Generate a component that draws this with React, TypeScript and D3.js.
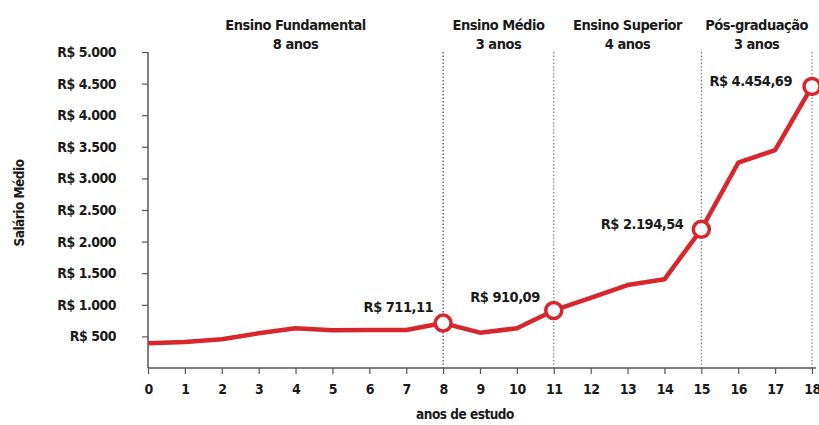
import React, { useEffect, useRef } from 'react';
import * as d3 from 'd3';

const years = [0, 1, 2, 3, 4, 5, 6, 7, 8, 9, 10, 11, 12, 13, 14, 15, 16, 17, 18];
const salaries = [391, 411, 454, 549, 628, 596, 601, 601, 711.11, 559, 628, 910.09, 1108, 1313, 1403, 2194.54, 3248, 3449, 4454.69];
const yTicks = [500, 1000, 1500, 2000, 2500, 3000, 3500, 4000, 4500, 5000];
const highlights = [8, 11, 15, 18];
const highlightLabels = ['R$ 711,11', 'R$ 910,09', 'R$ 2.194,54', 'R$ 4.454,69'];
const stages = ['Ensino Fundamental', 'Ensino Médio', 'Ensino Superior', 'Pós-graduação'];
const stageYears = ['8 anos', '3 anos', '4 anos', '3 anos'];
const stageBounds = [0, 8, 11, 15, 18];

const RED = '#d7262e';
const FONT = '"DejaVu Sans Condensed", "Liberation Sans Narrow", sans-serif';

const fmtTick = (v: number) => 'R$ ' + d3.format(',')(v).replace(/,/g, '.');

// shared text style
const styleText = (sel: any, size = 14) =>
  sel.style('font-family', FONT)
    .style('font-weight', 'bold')
    .style('font-size', `${size}px`)
    .style('letter-spacing', '-0.5px')
    .style('fill', '#1a1a1a');

const App: React.FC = () => {
  const svgRef = useRef<SVGSVGElement>(null);

  useEffect(() => {
    document.body.style.margin = '0';
    if (!svgRef.current) return;
    const svg = d3.select(svgRef.current);
    svg.selectAll('*').remove();

    const x = d3.scaleLinear().domain([0, 18]).range([148, 812]);
    const y = d3.scaleLinear().domain([0, 5000]).range([368, 52]);

    // stage headings
    stages.forEach((s, i) => {
      const cx = x((stageBounds[i] + stageBounds[i + 1]) / 2);
      styleText(svg.append('text').attr('x', cx).attr('y', 30).attr('text-anchor', 'middle'), 14.5).text(s);
      styleText(svg.append('text').attr('x', cx).attr('y', 49).attr('text-anchor', 'middle'), 14.5).text(stageYears[i]);
    });

    // dotted separators
    svg.selectAll('line.sep')
      .data(highlights)
      .enter()
      .append('line')
      .attr('class', 'sep')
      .attr('x1', d => x(d)).attr('x2', d => x(d))
      .attr('y1', 52).attr('y2', 368)
      .attr('stroke', (d, i) => (i === 0 ? '#222' : '#666'))
      .attr('stroke-width', 1)
      .attr('stroke-dasharray', '1.5,2');

    // Y axis
    const yAxis = svg.append('g')
      .attr('transform', `translate(${x(0)},0)`)
      .call(d3.axisLeft(y).tickValues(yTicks).tickSize(6).tickPadding(26).tickFormat(d => fmtTick(d as number)));
    yAxis.select('.domain').attr('d', `M0,${y(5000)}V${y(0)}`).attr('stroke', '#555').attr('stroke-width', 1.5);
    yAxis.selectAll('.tick line').attr('stroke', '#555').attr('stroke-width', 1.2);
    styleText(yAxis.selectAll('text'));

    // X axis
    const xAxis = svg.append('g')
      .attr('transform', `translate(0,${y(0)})`)
      .call(d3.axisBottom(x).tickValues(years).tickSize(6).tickPadding(10).tickFormat(d => String(d)));
    xAxis.select('.domain').attr('d', `M${x(0)},0H816`).attr('stroke', '#555').attr('stroke-width', 1.5);
    xAxis.selectAll('.tick line').attr('stroke', '#555').attr('stroke-width', 1.2);
    styleText(xAxis.selectAll('text'));

    // axis titles
    styleText(svg.append('text')
      .attr('transform', `translate(24,203) rotate(-90)`)
      .attr('text-anchor', 'middle'), 13.5)
      .text('Salário Médio');
    styleText(svg.append('text')
      .attr('x', 465).attr('y', 419).attr('text-anchor', 'middle'), 13.5)
      .text('anos de estudo');

    // line
    const line = d3.line<number>()
      .x((_, i) => x(years[i]))
      .y(d => y(d));
    svg.append('path')
      .datum(salaries)
      .attr('d', line)
      .attr('fill', 'none')
      .attr('stroke', RED)
      .attr('stroke-width', 4.5)
      .attr('stroke-linejoin', 'round');

    // markers
    svg.selectAll('circle.mark')
      .data(highlights)
      .enter()
      .append('circle')
      .attr('class', 'mark')
      .attr('cx', d => x(d))
      .attr('cy', d => y(salaries[d]))
      .attr('r', 8)
      .attr('fill', '#fff')
      .attr('stroke', RED)
      .attr('stroke-width', 3.5);

    // value labels
    const offsets = [[-10, -11], [-14, -8], [-18, 0], [-20, 0]];
    highlights.forEach((h, i) => {
      styleText(svg.append('text')
        .attr('x', x(h) + offsets[i][0])
        .attr('y', y(salaries[h]) + offsets[i][1])
        .attr('text-anchor', 'end'), 14.5)
        .text(highlightLabels[i]);
    });
  }, []);

  return <svg ref={svgRef} width={819} height={425} style={{ display: 'block', background: '#fff' }} />;
};

export default App;
